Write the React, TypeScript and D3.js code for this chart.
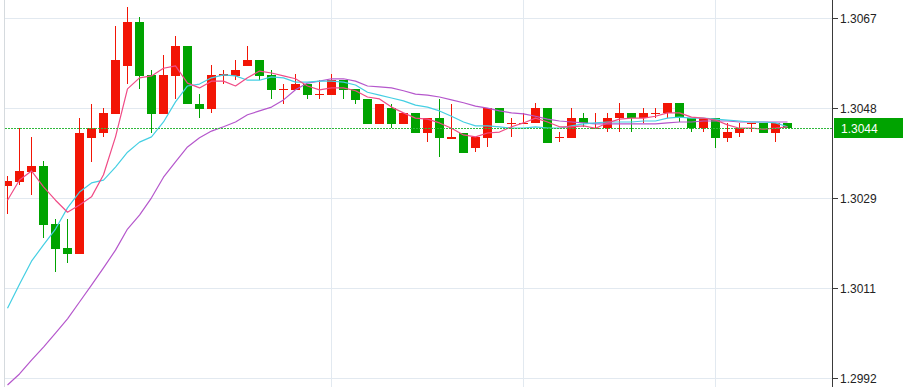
import React, { useRef, useEffect } from 'react';
import * as d3 from 'd3';

// OHLC per candle, oldest first
const opens = [
  1.30321, 1.30329, 1.30350, 1.30362, 1.30241, 1.30191, 1.30179, 1.30421, 1.30431, 1.30471,
  1.30571, 1.30662, 1.30552, 1.30471, 1.30550, 1.30612, 1.30491, 1.30481, 1.30550, 1.30550,
  1.30571, 1.30583, 1.30552, 1.30521, 1.30521, 1.30533, 1.30510, 1.30510, 1.30541, 1.30523,
  1.30502, 1.30450, 1.30483, 1.30450, 1.30473, 1.30431, 1.30462, 1.30419, 1.30431, 1.30400,
  1.30421, 1.30483, 1.30450, 1.30450, 1.30452, 1.30483, 1.30421, 1.30421, 1.30462, 1.30439,
  1.30441, 1.30462, 1.30473, 1.30462, 1.30471, 1.30473, 1.30494, 1.30462, 1.30441, 1.30462,
  1.30421, 1.30431, 1.30450, 1.30452, 1.30431, 1.30452
];
const highs = [
  1.30341, 1.30441, 1.30423, 1.30373, 1.30252, 1.30252, 1.30462, 1.30491, 1.30483, 1.30654,
  1.30694, 1.30673, 1.30562, 1.30594, 1.30633, 1.30612, 1.30512, 1.30573, 1.30562, 1.30583,
  1.30612, 1.30583, 1.30562, 1.30533, 1.30554, 1.30533, 1.30541, 1.30554, 1.30541, 1.30523,
  1.30502, 1.30491, 1.30491, 1.30473, 1.30473, 1.30462, 1.30502, 1.30491, 1.30431, 1.30423,
  1.30483, 1.30483, 1.30462, 1.30473, 1.30494, 1.30483, 1.30433, 1.30483, 1.30473, 1.30473,
  1.30473, 1.30494, 1.30473, 1.30483, 1.30483, 1.30494, 1.30494, 1.30462, 1.30462, 1.30462,
  1.30452, 1.30452, 1.30452, 1.30452, 1.30452, 1.30452
];
const lows = [
  1.30262, 1.30323, 1.30302, 1.30212, 1.30141, 1.30160, 1.30179, 1.30371, 1.30423, 1.30471,
  1.30533, 1.30523, 1.30431, 1.30471, 1.30502, 1.30491, 1.30462, 1.30473, 1.30533, 1.30541,
  1.30571, 1.30541, 1.30502, 1.30491, 1.30521, 1.30502, 1.30502, 1.30510, 1.30502, 1.30491,
  1.30450, 1.30450, 1.30441, 1.30450, 1.30431, 1.30412, 1.30381, 1.30419, 1.30389, 1.30391,
  1.30402, 1.30452, 1.30423, 1.30450, 1.30452, 1.30410, 1.30412, 1.30421, 1.30444, 1.30439,
  1.30433, 1.30433, 1.30433, 1.30452, 1.30462, 1.30462, 1.30454, 1.30433, 1.30433, 1.30400,
  1.30412, 1.30423, 1.30433, 1.30431, 1.30412, 1.30441
];
const closes = [
  1.30331, 1.30352, 1.30362, 1.30239, 1.30189, 1.30179, 1.30431, 1.30441, 1.30473, 1.30583,
  1.30662, 1.30550, 1.30471, 1.30552, 1.30612, 1.30491, 1.30481, 1.30552, 1.30554, 1.30562,
  1.30583, 1.30550, 1.30521, 1.30523, 1.30533, 1.30510, 1.30512, 1.30541, 1.30521, 1.30500,
  1.30450, 1.30491, 1.30450, 1.30473, 1.30431, 1.30462, 1.30421, 1.30423, 1.30389, 1.30423,
  1.30483, 1.30452, 1.30452, 1.30452, 1.30483, 1.30410, 1.30423, 1.30462, 1.30452, 1.30441,
  1.30462, 1.30473, 1.30462, 1.30473, 1.30473, 1.30494, 1.30462, 1.30441, 1.30462, 1.30421,
  1.30433, 1.30441, 1.30452, 1.30431, 1.30452, 1.30441
];

// moving averages as drawn on the chart
const maFast = [
  1.30291, 1.30333, 1.30352, 1.30319, 1.30291, 1.30266, 1.30281, 1.30298, 1.30344, 1.30423,
  1.30523, 1.30546, 1.30550, 1.30566, 1.30571, 1.30535, 1.30525, 1.30539, 1.30539, 1.30529,
  1.30546, 1.30560, 1.30556, 1.30550, 1.30544, 1.30529, 1.30521, 1.30525, 1.30525, 1.30519,
  1.30506, 1.30502, 1.30485, 1.30473, 1.30462, 1.30460, 1.30452, 1.30441, 1.30427, 1.30423,
  1.30431, 1.30433, 1.30444, 1.30452, 1.30462, 1.30454, 1.30444, 1.30444, 1.30446, 1.30441,
  1.30452, 1.30460, 1.30462, 1.30462, 1.30466, 1.30473, 1.30473, 1.30464, 1.30462, 1.30458,
  1.30448, 1.30441, 1.30441, 1.30439, 1.30441, 1.30444
];
const maMid = [
  1.30066, 1.30116, 1.30164, 1.30198, 1.30231, 1.30275, 1.30308, 1.30327, 1.30333, 1.30360,
  1.30391, 1.30412, 1.30423, 1.30454, 1.30496, 1.30529, 1.30533, 1.30546, 1.30552, 1.30550,
  1.30541, 1.30541, 1.30548, 1.30546, 1.30537, 1.30537, 1.30539, 1.30539, 1.30537, 1.30531,
  1.30516, 1.30510, 1.30504, 1.30498, 1.30489, 1.30485, 1.30477, 1.30466, 1.30454, 1.30446,
  1.30446, 1.30444, 1.30441, 1.30441, 1.30444, 1.30441, 1.30441, 1.30446, 1.30450, 1.30452,
  1.30454, 1.30454, 1.30454, 1.30456, 1.30456, 1.30462, 1.30464, 1.30462, 1.30462, 1.30460,
  1.30458, 1.30456, 1.30454, 1.30454, 1.30452, 1.30444
];
const maSlow = [
  1.29906, 1.29929, 1.29958, 1.29985, 1.30014, 1.30044, 1.30079, 1.30114, 1.30150, 1.30187,
  1.30231, 1.30260, 1.30296, 1.30339, 1.30371, 1.30402, 1.30421, 1.30435, 1.30444, 1.30454,
  1.30469, 1.30477, 1.30485, 1.30500, 1.30521, 1.30535, 1.30539, 1.30544, 1.30544, 1.30539,
  1.30529, 1.30527, 1.30525, 1.30519, 1.30512, 1.30510, 1.30506, 1.30500, 1.30494, 1.30487,
  1.30483, 1.30477, 1.30473, 1.30471, 1.30466, 1.30460, 1.30456, 1.30454, 1.30452, 1.30450,
  1.30450, 1.30450, 1.30450, 1.30450, 1.30450, 1.30452, 1.30454, 1.30454, 1.30456, 1.30456,
  1.30456, 1.30454, 1.30454, 1.30454, 1.30454, 1.30454
];

const yTickLabels = ["1.3067", "1.3048", "1.3029", "1.3011", "1.2992"];
const gridCandles = [27, 43, 59];
const lastPrice = 1.30441;
const lastLabel = "1.3044";

const UP = "#f21505";
const DOWN = "#00a300";
const FONT = "'Liberation Sans', Arial, sans-serif";

function CandleChart() {
  const svgRef = useRef(null);

  useEffect(() => {
    const svg = d3.select(svgRef.current);
    svg.selectAll("*").remove();

    const width = 903;
    const height = 387;
    const axisX = 833;

    const x = d3.scaleLinear()
      .domain([0, closes.length - 1])
      .range([7.5, 787.5]);

    const y = d3.scaleLinear()
      .domain([1.2992, 1.3067])
      .range([378.3, 18.3]);

    const [lo, hi] = y.domain();
    const tickValues = yTickLabels.map((_, i) => hi - i * (hi - lo) / (yTickLabels.length - 1));

    svg.append("rect")
      .attr("width", width)
      .attr("height", height)
      .attr("fill", "#ffffff");

    svg.append("defs").append("clipPath")
      .attr("id", "plot-clip")
      .append("rect")
      .attr("x", 5)
      .attr("y", 0)
      .attr("width", axisX - 5)
      .attr("height", height);

    // grid
    const grid = svg.append("g").attr("stroke", "#e2e9f0").attr("stroke-width", 1);
    grid.selectAll("line.h")
      .data(tickValues)
      .enter().append("line")
      .attr("x1", 5)
      .attr("x2", axisX)
      .attr("y1", d => Math.round(y(d)) + 0.5)
      .attr("y2", d => Math.round(y(d)) + 0.5);
    grid.selectAll("line.v")
      .data(gridCandles)
      .enter().append("line")
      .attr("x1", d => Math.floor(x(d)) + 0.5)
      .attr("x2", d => Math.floor(x(d)) + 0.5)
      .attr("y1", 0)
      .attr("y2", height);

    // left border
    svg.append("line")
      .attr("x1", 4.5).attr("x2", 4.5)
      .attr("y1", 0).attr("y2", height)
      .attr("stroke", "#d5dade");

    const plot = svg.append("g").attr("clip-path", "url(#plot-clip)");

    // candles
    const candles = plot.selectAll("g.candle")
      .data(closes.map((c, i) => ({ i, o: opens[i], h: highs[i], l: lows[i], c })))
      .enter().append("g");

    candles.append("line")
      .attr("x1", d => x(d.i))
      .attr("x2", d => x(d.i))
      .attr("y1", d => Math.round(y(d.h)))
      .attr("y2", d => Math.round(y(d.l)))
      .attr("stroke", d => d.c >= d.o ? UP : DOWN)
      .attr("stroke-width", 1);

    candles.append("rect")
      .attr("x", d => x(d.i) - 4.5)
      .attr("width", 9)
      .attr("y", d => Math.round(y(Math.max(d.o, d.c))))
      .attr("height", d => Math.max(1, Math.round(y(Math.min(d.o, d.c))) - Math.round(y(Math.max(d.o, d.c)))))
      .attr("fill", d => d.c >= d.o ? UP : DOWN);

    // moving averages
    const line = d3.line()
      .x((d, i) => x(i))
      .y(d => y(d));

    const drawMa = (data, color) => {
      plot.append("path")
        .datum(data)
        .attr("fill", "none")
        .attr("stroke", color)
        .attr("stroke-width", 1.2)
        .attr("stroke-linejoin", "round")
        .attr("d", line);
    };
    drawMa(maSlow, "#b557cc");
    drawMa(maMid, "#45cfe3");
    drawMa(maFast, "#f04b86");

    // last price line
    const lastY = Math.round(y(lastPrice)) + 0.5;
    svg.append("line")
      .attr("x1", 5)
      .attr("x2", axisX)
      .attr("y1", lastY)
      .attr("y2", lastY)
      .attr("stroke", "#2fb83c")
      .attr("stroke-width", 1)
      .attr("stroke-dasharray", "2 1");

    // right axis
    svg.append("line")
      .attr("x1", axisX - 0.5).attr("x2", axisX - 0.5)
      .attr("y1", 0).attr("y2", height)
      .attr("stroke", "#3a3a3a");

    const ticks = svg.append("g")
      .attr("font-family", FONT)
      .attr("font-size", 12)
      .selectAll("g")
      .data(tickValues)
      .enter().append("g");

    ticks.append("line")
      .attr("x1", axisX)
      .attr("x2", axisX + 5)
      .attr("y1", d => Math.round(y(d)) + 0.5)
      .attr("y2", d => Math.round(y(d)) + 0.5)
      .attr("stroke", "#3a3a3a");

    ticks.append("text")
      .attr("x", axisX + 7)
      .attr("y", d => y(d))
      .attr("dy", "0.36em")
      .attr("fill", "#222")
      .text((d, i) => yTickLabels[i]);

    // last price tag
    svg.append("rect")
      .attr("x", axisX + 1)
      .attr("y", lastY - 10.5)
      .attr("width", width - axisX - 1)
      .attr("height", 20)
      .attr("fill", DOWN);

    svg.append("text")
      .attr("x", axisX + 8)
      .attr("y", lastY)
      .attr("dy", "0.36em")
      .attr("font-family", FONT)
      .attr("font-size", 12)
      .attr("fill", "#ffffff")
      .text(lastLabel);
  }, []);

  return (
    <svg
      ref={svgRef}
      width={903}
      height={387}
      style={{ position: "absolute", left: 0, top: 0, display: "block" }}
    />
  );
}

export default function App() {
  return <CandleChart />;
}
